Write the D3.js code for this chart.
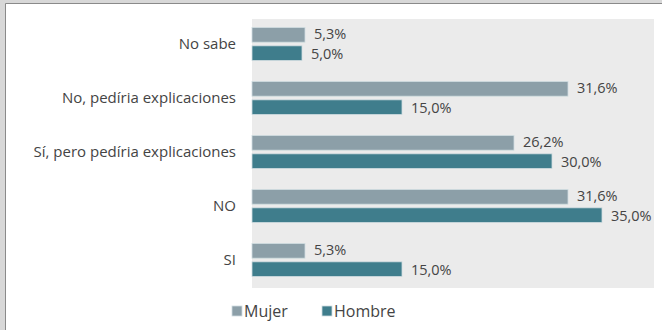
<!DOCTYPE html>
<html><head><meta charset="utf-8">
<script src="https://cdn.jsdelivr.net/npm/d3@7"></script>
<style>html,body{margin:0;padding:0;background:#fff;}svg{display:block;}</style>
</head><body>
<script>
const categories = ["No sabe", "No, pedíria explicaciones", "Sí, pero pedíria explicaciones", "NO", "SI"];
const seriesNames = ["Mujer", "Hombre"];
const mujerValues = [5.3, 31.6, 26.2, 31.6, 5.3];
const hombreValues = [5.0, 15.0, 30.0, 35.0, 15.0];
const colors = {Mujer: "#8c9fa8", Hombre: "#3f7d8c"};

const W = 662, H = 330;
const svg = d3.select("body").append("svg").attr("width", W).attr("height", H);

// frame
svg.append("rect").attr("x",0).attr("y",0).attr("width",W).attr("height",H).attr("fill","#d8d8d8");
svg.append("rect").attr("x",6).attr("y",4).attr("width",W-6).attr("height",H-4).attr("fill","#fff");
svg.append("line").attr("x1",5.5).attr("x2",5.5).attr("y1",3.5).attr("y2",H).attr("stroke","#8a8a8a");
svg.append("line").attr("x1",5.5).attr("x2",W).attr("y1",3.5).attr("y2",3.5).attr("stroke","#8a8a8a");

const x = d3.scaleLinear().domain([0, 40]).range([252, 652]);
const y0 = d3.scaleBand().domain(categories).range([17, 287]).paddingInner(0).paddingOuter(0);
const y1 = d3.scaleBand().domain(seriesNames).range([10.5, 43.5]).paddingInner(0.2);

// plot background
svg.append("rect").attr("x", x(0)).attr("y", 19).attr("width", 654 - x(0)).attr("height", 269).attr("fill", "#ebebeb");

const rows = categories.map((c, i) => ({cat: c, vals: [{s: "Mujer", v: mujerValues[i]}, {s: "Hombre", v: hombreValues[i]}]}));
const fmt = v => d3.format(".1f")(v).replace(".", ",") + "%";

const g = svg.selectAll("g.row").data(rows).join("g").attr("class","row")
  .attr("transform", d => `translate(0,${y0(d.cat)})`);

g.selectAll("rect").data(d => d.vals).join("rect")
  .attr("x", x(0)).attr("y", d => y1(d.s)).attr("width", d => x(d.v) - x(0)).attr("height", y1.bandwidth())
  .attr("fill", d => colors[d.s]).attr("stroke", "#d0dde0").attr("stroke-width", 0.8);

g.selectAll("text.val").data(d => d.vals).join("text").attr("class","val")
  .attr("x", d => x(d.v) + 9).attr("y", d => y1(d.s) + y1.bandwidth()/2 + (d.s === "Mujer" ? -0.5 : 0.5))
  .attr("dy", "0.35em").attr("font-family", "Open Sans, sans-serif").attr("font-size", 14.5)
  .attr("fill", "#444").text(d => fmt(d.v));

svg.selectAll("text.cat").data(categories).join("text").attr("class","cat")
  .attr("x", 236).attr("y", d => y0(d) + y0.bandwidth()/2)
  .attr("dy", "0.35em").attr("text-anchor", "end")
  .attr("font-family", "Open Sans, sans-serif").attr("font-size", 15).attr("fill", "#444").text(d => d);

// legend
const legX = {Mujer: 232, Hombre: 322};
const leg = svg.selectAll("g.leg").data(seriesNames).join("g").attr("class","leg")
  .attr("transform", d => `translate(${legX[d]},311)`);
leg.append("rect").attr("x",0).attr("y",-5).attr("width",10).attr("height",10).attr("fill", d => colors[d]).attr("stroke","#d0dde0").attr("stroke-width",0.8);
leg.append("text").attr("x",12).attr("dy","0.35em").attr("font-family","Open Sans, sans-serif").attr("font-size",16).attr("fill","#444").text(d => d);
</script>
</body></html>
